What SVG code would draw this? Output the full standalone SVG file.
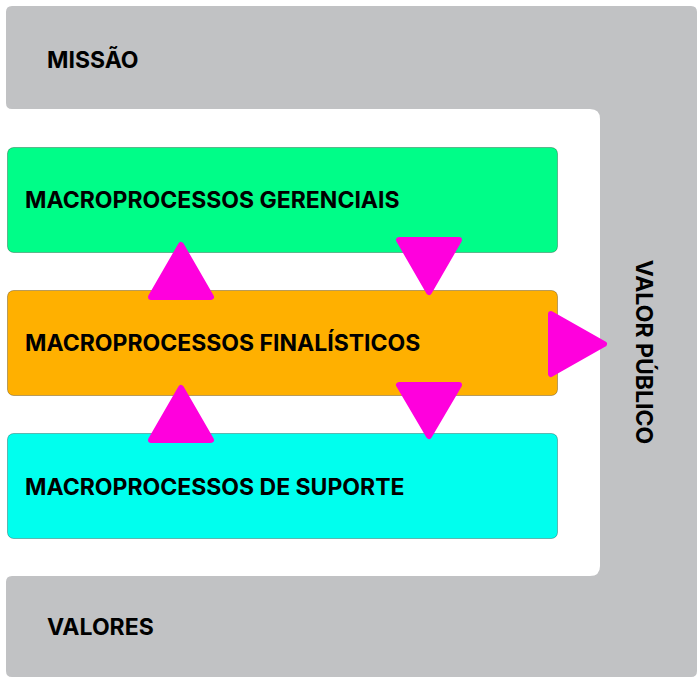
<svg xmlns="http://www.w3.org/2000/svg" width="697" height="677" viewBox="0 0 697 677">
<style>
.lbl{font-family:Inter,"Liberation Sans",sans-serif;font-weight:700;font-size:23px;fill:#000}
.box{stroke:rgba(0,0,0,0.28);stroke-width:1}
.tri{fill:#FF00DD;stroke:#FF00DD;stroke-width:6;stroke-linejoin:round}
</style>
<rect width="697" height="677" fill="#fff"/>
<g id="frame">
<path d="M12,6 H691 Q697,6 697,12 V671 Q697,677 691,677 H12 Q6,677 6,671 V582 Q6,576 12,576 H590 Q600,576 600,566 V119 Q600,109 590,109 H12 Q6,109 6,103 V12 Q6,6 12,6 Z" fill="#C1C2C4"/>
</g>
<g id="missao"><text class="lbl" x="47" y="68">MISSÃO</text></g>
<g id="valores"><text class="lbl" x="47" y="635">VALORES</text></g>
<g id="valor-publico"><text class="lbl" transform="translate(636,352) rotate(90)" text-anchor="middle">VALOR PÚBLICO</text></g>
<g id="gerenciais">
<rect class="box" x="7.5" y="147.5" width="550" height="105" rx="6" fill="#00FD88"/>
<text class="lbl" x="25" y="208">MACROPROCESSOS GERENCIAIS</text>
</g>
<g id="finalisticos">
<rect class="box" x="7.5" y="290.5" width="550" height="105" rx="6" fill="#FFB000"/>
<text class="lbl" x="25" y="351">MACROPROCESSOS FINALÍSTICOS</text>
</g>
<g id="suporte">
<rect class="box" x="7.5" y="433.5" width="550" height="105" rx="6" fill="#00FFEE"/>
<text class="lbl" x="25" y="495">MACROPROCESSOS DE SUPORTE</text>
</g>
<g id="connectors">
<polygon class="tri" points="181,245 211,297 151,297"/>
<polygon class="tri" points="399,240 459,240 429,292"/>
<polygon class="tri" points="181,388 211,440 151,440"/>
<polygon class="tri" points="399,385 459,385 429,436"/>
<polygon class="tri" points="551,314 604,344 551,374"/>
</g>
</svg>
